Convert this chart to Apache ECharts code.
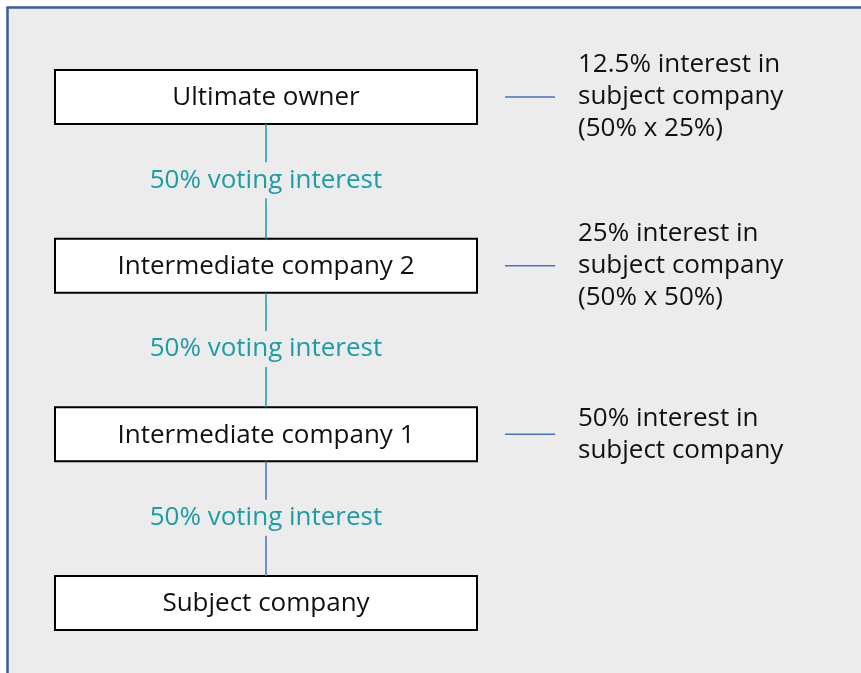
<!DOCTYPE html>
<html>
<head>
<meta charset="utf-8">
<script src="https://cdn.jsdelivr.net/npm/echarts@6/dist/echarts.min.js"></script>
<style>
  html, body { margin: 0; padding: 0; background: #fff; }
  #main { width: 861px; height: 673px; }
</style>
</head>
<body>
<div id="main"></div>
<script>
// ownership chain, top to bottom
const entities = ['Ultimate owner', 'Intermediate company 2', 'Intermediate company 1', 'Subject company'];
// labels on the links between entity i and entity i+1
const linkLabels = ['50% voting interest', '50% voting interest', '50% voting interest'];
// notes to the right of each entity (null = no note)
const notes = [
  '12.5% interest in\nsubject company\n(50% x 25%)',
  '25% interest in\nsubject company\n(50% x 50%)',
  '50% interest in\nsubject company',
  null
];

const TEAL = '#1b9ca6';
const BLUE = '#4472c4';
const linkColors = [TEAL, TEAL, BLUE];
const FONT = '"Open Sans", "Noto Sans", sans-serif';

const BOX_X0 = 55, BOX_X1 = 477, BOX_H = 54;
const MID_X = (BOX_X0 + BOX_X1) / 2;

const chartDom = document.getElementById('main');
const myChart = echarts.init(chartDom);

const option = {
  backgroundColor: '#ffffff',
  animation: false,
  graphic: [{
    type: 'rect',
    z: -10,
    shape: { x: 7.5, y: 7.5, width: 900, height: 700 },
    style: { fill: '#ececec', stroke: '#3b5c9f', lineWidth: 2.5 }
  }],
  grid: { left: 0, right: 0, top: 97, bottom: 70 },
  xAxis: { type: 'value', min: 0, max: 861, show: false },
  yAxis: { type: 'category', data: entities, inverse: true, boundaryGap: false, show: false },
  series: [
    {
      // entity boxes
      type: 'custom',
      data: entities.map((n, i) => [0, i]),
      renderItem: (params, api) => {
        const i = api.value(1);
        const cy = api.coord([0, i])[1];
        return {
          type: 'group',
          children: [
            {
              type: 'rect',
              shape: { x: BOX_X0, y: cy - BOX_H / 2, width: BOX_X1 - BOX_X0, height: BOX_H },
              style: { fill: '#ffffff', stroke: '#000000', lineWidth: 2 }
            },
            {
              type: 'text',
              style: {
                text: entities[i], x: MID_X, y: cy + 1,
                align: 'center', verticalAlign: 'middle',
                fill: '#111', font: '26px ' + FONT
              }
            }
          ]
        };
      }
    },
    {
      // vertical links with labels
      type: 'custom',
      data: linkLabels.map((t, i) => [0, i]),
      renderItem: (params, api) => {
        const i = api.value(1);
        const y0 = api.coord([0, i])[1] + BOX_H / 2;
        const y1 = api.coord([0, i + 1])[1] - BOX_H / 2;
        const mid = (y0 + y1) / 2 - 1;
        const c = linkColors[i];
        return {
          type: 'group',
          children: [
            { type: 'line', shape: { x1: MID_X, y1: y0, x2: MID_X, y2: mid - 18 }, style: { stroke: c, lineWidth: 1.5 } },
            { type: 'line', shape: { x1: MID_X, y1: mid + 18, x2: MID_X, y2: y1 }, style: { stroke: c, lineWidth: 1.5 } },
            {
              type: 'text',
              style: {
                text: linkLabels[i], x: MID_X, y: mid,
                align: 'center', verticalAlign: 'middle',
                fill: TEAL, font: '26px ' + FONT
              }
            }
          ]
        };
      }
    },
    {
      // side notes
      type: 'custom',
      data: notes.map((t, i) => [0, i]).filter((d, i) => notes[i]),
      renderItem: (params, api) => {
        const i = api.value(1);
        const cy = api.coord([0, i])[1];
        return {
          type: 'group',
          children: [
            { type: 'line', shape: { x1: 505, y1: cy, x2: 555, y2: cy }, style: { stroke: BLUE, lineWidth: 1.5 } },
            {
              type: 'text',
              style: {
                text: notes[i], x: 578, y: cy,
                align: 'left', verticalAlign: 'middle',
                lineHeight: 32,
                fill: '#111', font: '26px ' + FONT
              }
            }
          ]
        };
      }
    }
  ]
};

option && myChart.setOption(option);
</script>
</body>
</html>
